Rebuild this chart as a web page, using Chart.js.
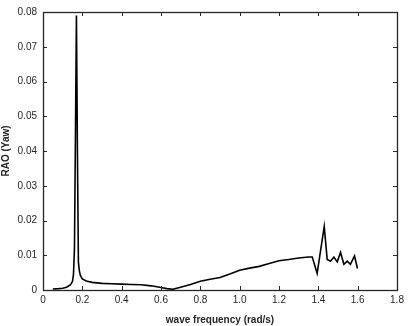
<!DOCTYPE html>
<html>
<head>
<meta charset="utf-8">
<script src="https://cdn.jsdelivr.net/npm/chart.js@4"></script>
<style>
  html, body { margin: 0; padding: 0; background: #fff; }
  #wrap { width: 408px; height: 326px; }
</style>
</head>
<body>
<div id="wrap"><canvas id="raoChart" width="408" height="326"></canvas></div>
<script>
// wave frequency (rad/s) and yaw RAO
const freq = [0.05, 0.08, 0.10, 0.12, 0.14, 0.15, 0.155, 0.16, 0.165, 0.170, 0.175, 0.18, 0.185, 0.19, 0.20, 0.22, 0.25, 0.30, 0.35, 0.40, 0.45, 0.50, 0.55, 0.60, 0.63, 0.66, 0.70, 0.75, 0.80, 0.85, 0.90, 0.95, 1.00, 1.05, 1.10, 1.15, 1.20, 1.25, 1.30, 1.35, 1.369, 1.394, 1.430, 1.445, 1.462, 1.479, 1.496, 1.513, 1.530, 1.547, 1.563, 1.584, 1.599];
const rao = [0.0003, 0.0004, 0.0005, 0.0008, 0.0015, 0.0025, 0.0045, 0.012, 0.045, 0.079, 0.040, 0.008, 0.0055, 0.0042, 0.0032, 0.0026, 0.0022, 0.0019, 0.0018, 0.0017, 0.0016, 0.0015, 0.0012, 0.0007, 0.0004, 0.0002, 0.0008, 0.0016, 0.0025, 0.0031, 0.0036, 0.0046, 0.0057, 0.0063, 0.0068, 0.0076, 0.0084, 0.0088, 0.0092, 0.0095, 0.0095, 0.0048, 0.0183, 0.0088, 0.0083, 0.0095, 0.0081, 0.0108, 0.0074, 0.0083, 0.0074, 0.0098, 0.0062];

const xMin = 0, xMax = 1.8, xStep = 0.2;
const yMin = 0, yMax = 0.08, yStep = 0.01;

// =========================
// Box + inward ticks (MATLAB look)
// =========================
const boxPlugin = {
    id: "boxPlugin",
    afterDraw(chart) {
        const ctx = chart.ctx;
        const a = chart.chartArea;
        const xs = chart.scales.x;
        const ys = chart.scales.y;
        const len = 4;
        ctx.save();
        ctx.strokeStyle = "#262626";
        ctx.lineWidth = 1;
        ctx.beginPath();
        xs.ticks.forEach(t => {
            const px = Math.round(xs.getPixelForValue(t.value)) + 0.5;
            ctx.moveTo(px, a.bottom); ctx.lineTo(px, a.bottom - len);
            ctx.moveTo(px, a.top); ctx.lineTo(px, a.top + len);
        });
        ys.ticks.forEach(t => {
            const py = Math.round(ys.getPixelForValue(t.value)) + 0.5;
            ctx.moveTo(a.left, py); ctx.lineTo(a.left + len, py);
            ctx.moveTo(a.right, py); ctx.lineTo(a.right - len, py);
        });
        ctx.stroke();
        ctx.lineWidth = 1.3;
        ctx.strokeRect(Math.round(a.left) + 0.5, Math.round(a.top) + 0.5,
            Math.round(a.right - a.left), Math.round(a.bottom - a.top));
        ctx.restore();
    }
};

const points = freq.map((f, i) => ({ x: f, y: rao[i] }));

new Chart(document.getElementById("raoChart"), {
    type: "line",
    data: {
        datasets: [{
            data: points,
            borderColor: "#000",
            borderWidth: 1.6,
            pointRadius: 0,
            tension: 0,
            fill: false
        }]
    },
    options: {
        responsive: false,
        animation: false,
        layout: { padding: { top: 11, right: 11, left: 0, bottom: 0 } },
        plugins: {
            legend: { display: false },
            tooltip: { enabled: false }
        },
        scales: {
            x: {
                type: "linear",
                min: xMin, max: xMax,
                grid: { display: false, drawTicks: false },
                border: { display: false },
                ticks: {
                    stepSize: xStep,
                    padding: 4,
                    color: "#262626",
                    font: { family: "Liberation Sans", size: 10 },
                    maxRotation: 0
                },
                title: {
                    display: true,
                    text: "wave frequency (rad/s)",
                    color: "#262626",
                    font: { family: "Liberation Sans", size: 10, weight: "bold" },
                    padding: { top: 3, bottom: 0 }
                },
                afterFit(scale) { scale.height = 36; }
            },
            y: {
                min: yMin, max: yMax,
                grid: { display: false, drawTicks: false },
                border: { display: false },
                ticks: {
                    stepSize: yStep,
                    padding: 6,
                    color: "#262626",
                    font: { family: "Liberation Sans", size: 10 }
                },
                title: {
                    display: true,
                    text: "RAO (Yaw)",
                    color: "#262626",
                    font: { family: "Liberation Sans", size: 10, weight: "bold" },
                    padding: { top: 0, bottom: 0 }
                },
                afterFit(scale) { scale.width = 43; }
            }
        }
    },
    plugins: [boxPlugin]
});
</script>
</body>
</html>
